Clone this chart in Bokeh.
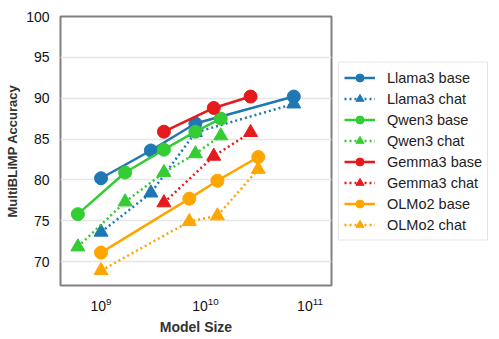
from bokeh.plotting import figure
from bokeh.models import FixedTicker, Legend, LegendItem, Range1d
from bokeh.embed import file_html
from bokeh.resources import INLINE

# ---- data ----
llama_size = [1e9, 3e9, 8e9, 70e9]
llama_base = [80.2, 83.6, 86.9, 90.2]
llama_chat = [73.6, 78.4, 85.8, 89.3]

qwen_size = [0.6e9, 1.7e9, 4e9, 8e9, 14e9]
qwen_base = [75.8, 80.9, 83.7, 85.9, 87.5]
qwen_chat = [71.8, 77.3, 80.9, 83.2, 85.4]

gemma_size = [4e9, 12e9, 27e9]
gemma_base = [85.9, 88.8, 90.2]
gemma_chat = [77.2, 82.9, 85.8]

olmo_size = [1e9, 7e9, 13e9, 32e9]
olmo_base = [71.1, 77.7, 79.9, 82.8]
olmo_chat = [68.9, 74.9, 75.6, 81.3]

series = [
    ("Llama3", llama_size, llama_base, llama_chat, "#1f77b4"),
    ("Qwen3", qwen_size, qwen_base, qwen_chat, "#33cc33"),
    ("Gemma3", gemma_size, gemma_base, gemma_chat, "#e41a1c"),
    ("OLMo2", olmo_size, olmo_base, olmo_chat, "#ffa500"),
]

x_ticks = [1e9, 1e10, 1e11]
y_ticks = [70, 75, 80, 85, 90, 95, 100]

FONT = "Liberation Sans"

p = figure(
    x_axis_type="log",
    width=497, height=335,
    frame_width=271, frame_height=269,
    min_border_left=60, min_border_top=16,
    min_border_right=0, min_border_bottom=0,
    output_backend="svg", toolbar_location=None,
    x_range=Range1d(10 ** 8.612, 10 ** 11.206),
    y_range=Range1d(67.07, 100.0),
)

p.outline_line_color = "#808080"
p.outline_line_width = 2
p.background_fill_color = "white"

p.xgrid.grid_line_color = None
p.ygrid.grid_line_color = "#e6e6e6"
p.ygrid.grid_line_width = 1.5

p.xaxis.ticker = FixedTicker(ticks=x_ticks, minor_ticks=[])
p.yaxis.ticker = FixedTicker(ticks=y_ticks, minor_ticks=[])

for ax in (p.xaxis, p.yaxis):
    ax.axis_line_color = None
    ax.major_tick_line_color = None
    ax.minor_tick_line_color = None
    ax.major_label_text_font = FONT
    ax.major_label_text_font_size = "14px"
    ax.major_label_text_color = "#111111"
    ax.axis_label_text_font = FONT
    ax.axis_label_text_font_style = "bold"
    ax.axis_label_text_color = "#333333"
    ax.major_label_standoff = 5

p.xaxis.axis_label = "Model Size"
p.xaxis.axis_label_text_font_size = "14px"
p.xaxis.axis_label_standoff = 5
p.yaxis.axis_label = "MultiBLiMP Accuracy"
p.yaxis.axis_label_text_font_size = "13px"
p.yaxis.axis_label_standoff = 3

items = []
for name, xs, base, chat, col in series:
    lb = p.line(xs, base, line_color=col, line_width=2.5)
    sb = p.scatter(xs, base, marker="circle", size=13, fill_color=col, line_color=col)
    lc = p.line(xs, chat, line_color=col, line_width=2.5, line_dash="2 3")
    sc = p.scatter(xs, chat, marker="triangle", size=14, fill_color=col, line_color=col)
    items.append(LegendItem(label=name + " base", renderers=[lb, sb]))
    items.append(LegendItem(label=name + " chat", renderers=[lc, sc]))

legend = Legend(
    items=items,
    location="center_left",
    orientation="vertical",
    label_text_font=FONT,
    label_text_font_size="14.5px",
    label_text_color="#222222",
    glyph_width=31,
    glyph_height=20,
    label_height=20,
    label_standoff=12,
    spacing=1,
    padding=5,
    margin=7,
    border_line_color="#cccccc",
    border_line_width=1.5,
    background_fill_color="white",
)
p.add_layout(legend, "right")

open("out.html", "w").write(file_html(p, INLINE))
